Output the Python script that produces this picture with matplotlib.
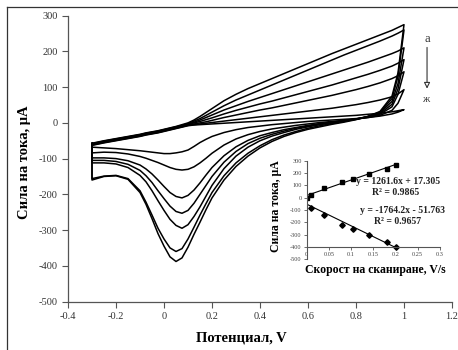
import numpy as np
import matplotlib
matplotlib.use("Agg")
import matplotlib.pyplot as plt
from matplotlib.lines import Line2D

plt.rcParams['font.family'] = ['Liberation Serif', 'DejaVu Serif']
plt.rcParams['axes.unicode_minus'] = False

# potential grid, V (sweep from -0.3 to 1.0 and back)
potential = [-0.3, -0.25, -0.2, -0.15, -0.1, -0.075, -0.05, -0.025, 0, 0.025, 0.05, 0.075,
             0.1, 0.125, 0.15, 0.175, 0.2, 0.25, 0.3, 0.35, 0.4, 0.45, 0.5, 0.55,
             0.6, 0.65, 0.7, 0.75, 0.8, 0.85, 0.9, 0.95, 0.975, 1.0]

# upper branches (uA), curves a .. zh
up_a = [-57, -50, -44, -38, -32, -28, -25, -22, -18, -14, -10, -5, 0, 8, 18, 29, 40, 62,
        80, 96, 110, 124, 138, 152, 166, 180, 194, 207, 220, 233, 246, 259, 267, 275]
up_b = [-58, -51, -45, -39, -33, -29, -26, -23, -19, -15, -11, -7, -2, 5, 12, 21, 30, 48,
        64, 78, 92, 106, 120, 134, 148, 162, 176, 190, 203, 216, 229, 243, 251, 260]
up_v = [-59, -52, -46, -40, -34, -30, -27, -24, -20, -16, -12, -8, -4, 2, 8, 15, 22, 36,
        48, 60, 71, 82, 93, 104, 115, 126, 137, 148, 159, 170, 182, 194, 201, 210]
up_g = [-60, -53, -47, -41, -35, -31, -28, -25, -21, -17, -13, -9, -5, 0, 4, 9, 14, 25,
        35, 44, 53, 61, 70, 79, 88, 97, 106, 116, 126, 136, 147, 159, 167, 177]
up_d = [-61, -54, -48, -42, -36, -32, -29, -26, -22, -18, -14, -10, -6, -3, 0, 3, 7, 15,
        22, 29, 36, 42, 49, 56, 63, 70, 77, 85, 93, 102, 112, 124, 132, 143]
up_e = [-62, -55, -49, -43, -37, -33, -30, -27, -23, -19, -15, -11, -7, -5, -3, -1, 1, 5,
        9, 13, 17, 21, 25, 29, 33, 37, 41, 46, 51, 57, 64, 73, 81, 93]
up_zh = [-63, -56, -50, -44, -38, -34, -31, -28, -24, -20, -16, -12, -8, -6, -5, -4, -3, -1,
         1, 3, 5, 7, 9, 11, 13, 15, 17, 19, 21, 24, 27, 31, 34, 37]

# lower branches (uA) with the cathodic peak
low_a = [-160, -150, -148, -158, -195, -228, -268, -310, -345, -375, -388, -378, -348, -312,
         -278, -243, -210, -160, -122, -93, -70, -52, -38, -27, -18, -11, -4, 2, 9, 18,
         32, 75, 140, 275]
low_b = [-156, -149, -147, -156, -190, -222, -258, -295, -325, -350, -360, -352, -325, -292,
         -258, -226, -195, -148, -112, -85, -64, -47, -34, -24, -15, -8, -2, 4, 10, 18,
         30, 68, 130, 260]
low_v = [-112, -112, -115, -125, -147, -165, -190, -218, -245, -270, -287, -295, -285, -262,
         -235, -205, -175, -128, -93, -68, -50, -37, -27, -18, -11, -5, 0, 5, 11, 18,
         28, 60, 110, 210]
low_g = [-105, -105, -108, -116, -133, -148, -167, -190, -212, -233, -248, -253, -245, -225,
         -200, -175, -150, -110, -80, -58, -43, -32, -23, -15, -9, -3, 2, 6, 11, 17,
         26, 52, 95, 177]
low_d = [-98, -98, -100, -106, -118, -129, -143, -160, -178, -195, -206, -210, -203, -188,
         -168, -146, -125, -92, -67, -49, -36, -27, -19, -13, -7, -2, 2, 6, 10, 16,
         24, 45, 80, 143]
low_e = [-84, -82, -83, -87, -94, -99, -105, -111, -118, -125, -130, -132, -130, -123,
         -112, -99, -85, -62, -45, -33, -24, -17, -12, -7, -3, 1, 4, 7, 11, 15,
         21, 35, 55, 93]
low_zh = [-68, -70, -72, -75, -78, -80, -82, -84, -86, -86, -84, -81, -76, -66,
          -55, -46, -38, -27, -19, -13, -9, -5, -2, 1, 4, 6, 8, 10, 12, 15,
          19, 25, 30, 37]

# inset: peak current vs scan rate
rate_an = [0, 0.01, 0.04, 0.08, 0.105, 0.14, 0.18, 0.2]
cur_an = [0, 25, 76, 130, 155, 195, 233, 265]
rate_cat = [0.01, 0.04, 0.08, 0.105, 0.14, 0.18, 0.2]
cur_cat = [-86, -141, -222, -257, -303, -358, -398]
fit_an = (1261.6, 17.305)
fit_cat = (-1764.2, -51.763)

xticks = [-0.4, -0.2, 0, 0.2, 0.4, 0.6, 0.8, 1.0, 1.2]
xticklabels = ['-0.4', '-0.2', '0', '0.2', '0.4', '0.6', '0.8', '1', '1.2']
yticks = [-500, -400, -300, -200, -100, 0, 100, 200, 300]

W, H = 458, 350
fig = plt.figure(figsize=(W / 100, H / 100), dpi=100)

ax = fig.add_axes([68 / W, 1 - 301.5 / H, 384 / W, 285.8 / H])
curves = [(up_a, low_a), (up_b, low_b), (up_v, low_v), (up_g, low_g),
          (up_d, low_d), (up_e, low_e), (up_zh, low_zh)]
for up, low in curves:
    x = potential + potential[::-1] + [potential[0]]
    y = up + low[::-1] + [up[0]]
    ax.plot(x, y, color='black', lw=1.1)

ax.set_xlim(-0.4, 1.2)
ax.set_ylim(-500, 300)
ax.set_xticks(xticks)
ax.set_xticklabels(xticklabels)
ax.set_yticks(yticks)
for s in ['top', 'right']:
    ax.spines[s].set_visible(False)
for s in ['left', 'bottom']:
    ax.spines[s].set_color('#555555')
    ax.spines[s].set_linewidth(0.9)
ax.tick_params(direction='out', length=4, width=0.8, color='#555555',
               labelcolor='#333333', labelsize=7.5)

# arrow a -> zh
ax.text(1.096, 236, 'а', ha='center', va='center', fontsize=9, color='#333333')
ax.annotate('', xy=(1.096, 88), xytext=(1.096, 219),
            arrowprops=dict(arrowstyle='-|>', fc='white', ec='#333333', lw=0.8,
                            mutation_scale=9))
ax.text(1.096, 65, 'ж', ha='center', va='center', fontsize=7.5, color='#333333')

fig.text(25 / W, 1 - 162 / H, 'Сила на тока, μA', rotation=90, ha='center', va='center',
         fontsize=10.5, fontweight='bold')
fig.text(241 / W, 1 - 338 / H, 'Потенциал, V', ha='center', va='center',
         fontsize=10.5, fontweight='bold')

# inset
axin = fig.add_axes([306.5 / W, 1 - 259.2 / H, 133.5 / W, 98.4 / H])
axin.patch.set_alpha(0)
xs = np.array([0, 0.2])
axin.plot(xs, fit_an[0] * xs + fit_an[1], color='black', lw=0.8)
axin.plot(xs, fit_cat[0] * xs + fit_cat[1], color='black', lw=0.8)
axin.plot(rate_an, cur_an, 's', color='black', ms=3.2)
axin.plot(rate_cat, cur_cat, 'D', color='black', ms=2.8)
axin.set_xlim(0, 0.3)
axin.set_ylim(-500, 300)
axin.set_xticks([0, 0.05, 0.1, 0.15, 0.2, 0.25, 0.3])
axin.set_xticklabels(['0', '0.05', '0.1', '0.15', '0.2', '0.25', '0.3'])
axin.set_yticks(yticks)
for s in ['top', 'right']:
    axin.spines[s].set_visible(False)
axin.spines['bottom'].set_position(('data', -400))
for s in ['left', 'bottom']:
    axin.spines[s].set_color('#555555')
    axin.spines[s].set_linewidth(0.8)
axin.tick_params(direction='out', length=2, width=0.6, color='#555555',
                 labelcolor='#444444', labelsize=4.5, pad=1.5)

fig.text(276 / W, 1 - 206 / H, 'Сила на тока, μA', rotation=90, ha='center', va='center',
         fontsize=8.5, fontweight='bold')
fig.text(375.5 / W, 1 - 270 / H, 'Скорост на сканиране, V/s', ha='center', va='center',
         fontsize=8.5, fontweight='bold')
eq_kw = dict(ha='center', va='center', fontsize=7, fontweight='bold', color='#222222')
fig.text(398 / W, 1 - 181.5 / H, 'y = 1261.6x + 17.305', **eq_kw)
fig.text(396 / W, 1 - 193 / H, 'R² = 0.9865', **eq_kw)
fig.text(402 / W, 1 - 210.5 / H, 'y = -1764.2x - 51.763', **eq_kw)
fig.text(398 / W, 1 - 221 / H, 'R² = 0.9657', **eq_kw)

# outer frame
fig.add_artist(Line2D([7 / W, 7 / W], [0, 1 - 7 / H], transform=fig.transFigure,
                      color='#333333', lw=0.9))
fig.add_artist(Line2D([7 / W, 1], [1 - 7 / H, 1 - 7 / H], transform=fig.transFigure,
                      color='#333333', lw=0.9))

fig.savefig('out.png', dpi=100)
